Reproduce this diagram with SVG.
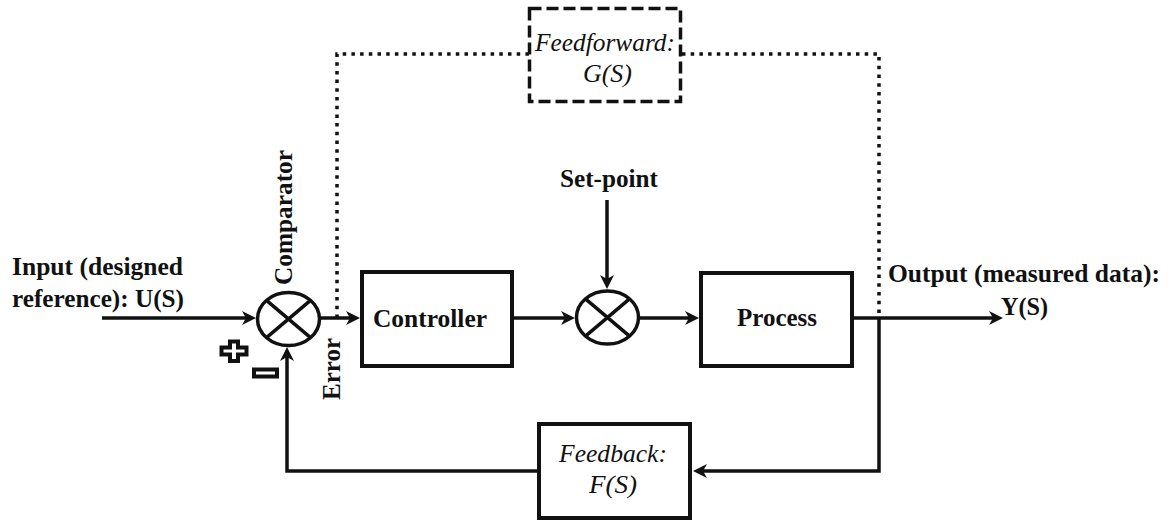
<svg xmlns="http://www.w3.org/2000/svg" width="1171" height="522" viewBox="0 0 1171 522">
<style>
.ln{fill:none;stroke:#111;stroke-width:3.5}
.box{fill:#fff;stroke:#111;stroke-width:4}
.dash{fill:#fff;stroke:#111;stroke-width:3.5;stroke-dasharray:12 5}
.dot{fill:none;stroke:#111;stroke-width:3.5;stroke-dasharray:3.5 5.2}
.t{font-size:25px;font-weight:bold;fill:#111}
.it{font-size:25px;font-style:italic;fill:#111}
.sum{fill:#fff;stroke:#111;stroke-width:3.5}
.sgn{fill:none;stroke:#111;stroke-width:4}
</style>
<defs>
<marker id="arr" viewBox="0 0 16 14" refX="11" refY="7" markerWidth="16" markerHeight="14" orient="auto" markerUnits="userSpaceOnUse">
<path d="M1,0 L15,7 L1,14 L5,7 Z" fill="#111"/>
</marker>
</defs>
<g id="connectors">
<path class="dot" d="M337,318 L337,54 L879,54 L879,318"/>
<path class="ln" d="M102,318 L252,318" marker-end="url(#arr)"/>
<path class="ln" d="M320,318 L356,318" marker-end="url(#arr)"/>
<path class="ln" d="M513,318 L571,318" marker-end="url(#arr)"/>
<path class="ln" d="M607,200 L607,285" marker-end="url(#arr)"/>
<path class="ln" d="M639,318 L695,318" marker-end="url(#arr)"/>
<path class="ln" d="M854,318 L999,318" marker-end="url(#arr)"/>
<path class="ln" d="M879,318 L879,471 L697,471" marker-end="url(#arr)"/>
<path class="ln" d="M537,471 L287,471 L287,351" marker-end="url(#arr)"/>
</g>
<g font-family="Liberation Serif, Tinos, Times New Roman, Times, Nimbus Roman, FreeSerif, DejaVu Serif, Noto Serif, serif">
<g id="feedforward">
<rect class="dash" x="529.5" y="8.5" width="151" height="93"/>
<text class="it" x="535" y="51" textLength="140" lengthAdjust="spacingAndGlyphs">Feedforward:</text>
<text class="it" x="583" y="82" textLength="49" lengthAdjust="spacingAndGlyphs">G(S)</text>
</g>
<g id="comparator">
<ellipse class="sum" cx="288.5" cy="319" rx="31" ry="26.5"/>
<path class="ln" d="M266.5,300.3 L310.5,337.7 M310.5,300.3 L266.5,337.7"/>
<text class="t" transform="translate(292,285) rotate(-90)" textLength="135" lengthAdjust="spacingAndGlyphs">Comparator</text>
<polygon class="sgn" points="230,341.5 238,341.5 238,347.5 246.5,347.5 246.5,354.5 238,354.5 238,361 230,361 230,354.5 221.5,354.5 221.5,347.5 230,347.5"/>
<rect class="sgn" x="254" y="369.5" width="23" height="7"/>
</g>
<g id="input">
<text class="t" x="12" y="275" textLength="171" lengthAdjust="spacingAndGlyphs">Input (designed</text>
<text class="t" x="12" y="307" textLength="172" lengthAdjust="spacingAndGlyphs">reference): U(S)</text>
</g>
<g id="error">
<text class="t" transform="translate(340,400) rotate(-90)" textLength="62" lengthAdjust="spacingAndGlyphs">Error</text>
</g>
<g id="controller">
<rect class="box" x="362" y="272" width="150" height="94"/>
<text class="t" x="373" y="327" textLength="114" lengthAdjust="spacingAndGlyphs">Controller</text>
</g>
<g id="setpoint-junction">
<ellipse class="sum" cx="607.5" cy="317.5" rx="31" ry="26.5"/>
<path class="ln" d="M585.5,298.8 L629.5,336.2 M629.5,298.8 L585.5,336.2"/>
<text class="t" x="560" y="187" textLength="98" lengthAdjust="spacingAndGlyphs">Set-point</text>
</g>
<g id="process">
<rect class="box" x="701" y="273" width="151" height="93"/>
<text class="t" x="737" y="326" textLength="80" lengthAdjust="spacingAndGlyphs">Process</text>
</g>
<g id="output">
<text class="t" x="888" y="282" textLength="272" lengthAdjust="spacingAndGlyphs">Output (measured data):</text>
<text class="t" x="1001" y="315" textLength="47" lengthAdjust="spacingAndGlyphs">Y(S)</text>
</g>
<g id="feedback">
<rect class="box" x="539" y="424" width="151" height="94"/>
<text class="it" x="559" y="462" textLength="108" lengthAdjust="spacingAndGlyphs">Feedback:</text>
<text class="it" x="589" y="493" textLength="48" lengthAdjust="spacingAndGlyphs">F(S)</text>
</g>
</g>
</svg>
